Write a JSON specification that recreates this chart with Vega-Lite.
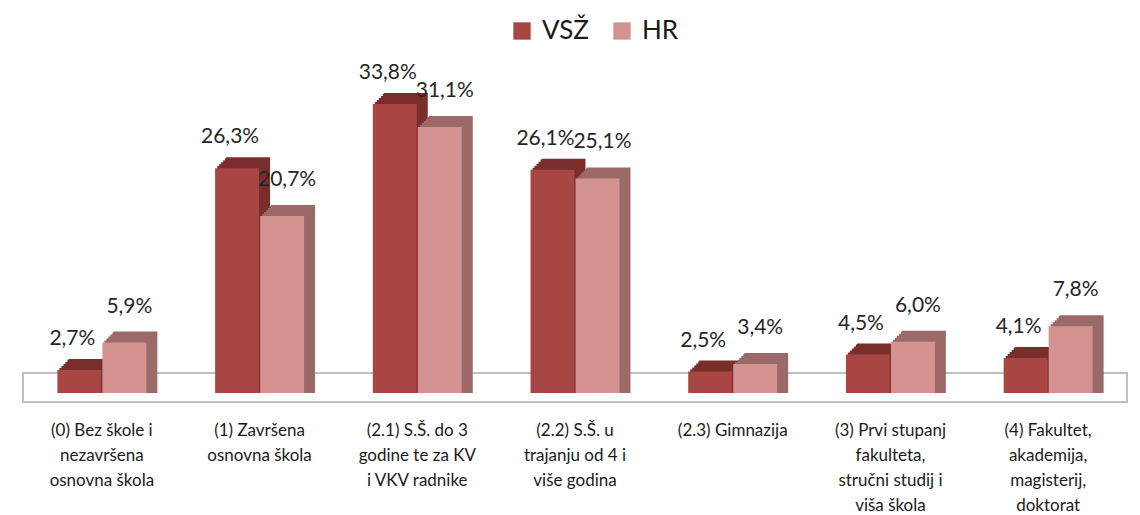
{
  "$schema": "https://vega.github.io/schema/vega-lite/v6.json",
  "autosize": "none",
  "width": 1104,
  "height": 367.65,
  "padding": {"left": 23, "top": 51, "right": 13, "bottom": 96},
  "background": "white",
  "config": {"view": {"stroke": null}, "font": "Lato"},
  "data": {"values": [
    {"cat": "(0) Bez škole i|nezavršena|osnovna škola", "series": "VSŽ", "v": 2.7, "label": "2,7%"},
    {"cat": "(0) Bez škole i|nezavršena|osnovna škola", "series": "HR", "v": 5.9, "label": "5,9%"},
    {"cat": "(1) Završena|osnovna škola", "series": "VSŽ", "v": 26.3, "label": "26,3%"},
    {"cat": "(1) Završena|osnovna škola", "series": "HR", "v": 20.7, "label": "20,7%"},
    {"cat": "(2.1) S.Š. do 3|godine te za KV|i VKV radnike", "series": "VSŽ", "v": 33.8, "label": "33,8%"},
    {"cat": "(2.1) S.Š. do 3|godine te za KV|i VKV radnike", "series": "HR", "v": 31.1, "label": "31,1%"},
    {"cat": "(2.2) S.Š. u|trajanju od 4 i|više godina", "series": "VSŽ", "v": 26.1, "label": "26,1%"},
    {"cat": "(2.2) S.Š. u|trajanju od 4 i|više godina", "series": "HR", "v": 25.1, "label": "25,1%"},
    {"cat": "(2.3) Gimnazija", "series": "VSŽ", "v": 2.5, "label": "2,5%"},
    {"cat": "(2.3) Gimnazija", "series": "HR", "v": 3.4, "label": "3,4%"},
    {"cat": "(3) Prvi stupanj|fakulteta,|stručni studij i|viša škola", "series": "VSŽ", "v": 4.5, "label": "4,5%"},
    {"cat": "(3) Prvi stupanj|fakulteta,|stručni studij i|viša škola", "series": "HR", "v": 6.0, "label": "6,0%"},
    {"cat": "(4) Fakultet,|akademija,|magisterij,|doktorat", "series": "VSŽ", "v": 4.1, "label": "4,1%"},
    {"cat": "(4) Fakultet,|akademija,|magisterij,|doktorat", "series": "HR", "v": 7.8, "label": "7,8%"}
  ]},
  "encoding": {
    "x": {"field": "cat", "type": "nominal", "sort": null,
      "scale": {"paddingInner": 0.436, "paddingOuter": 0.218},
      "axis": {"title": null, "domain": false, "ticks": false, "labelAngle": 0,
        "labelExpr": "split(datum.label, '|')", "labelFont": "Lato", "labelFontSize": 17,
        "labelColor": "#1a1a1a", "labelLineHeight": 25, "labelPadding": 4, "labelBaseline": "top", "labelLimit": 200}},
    "y": {"field": "v", "type": "quantitative", "scale": {"domain": [-3, 40], "nice": false, "zero": false}, "axis": null}
  },
  "layer": [
    {
      "mark": {"type": "rect", "fill": "white", "stroke": "#BFBFBF", "strokeWidth": 2},
      "encoding": {"x": null, "y": {"datum": -1.05, "type": "quantitative"}, "y2": {"datum": 2.34}}
    },
    {"transform": [{"filter": "datum.series == 'VSŽ'"}], "mark": {"type": "bar", "width": {"band": 0.494}, "fill": "#7A2E2C", "xOffset": -20.5, "yOffset": -2}, "encoding": {"y2": {"datum": 0}}},
    {"transform": [{"filter": "datum.series == 'VSŽ'"}], "mark": {"type": "bar", "width": {"band": 0.494}, "fill": "#7A2E2C", "xOffset": -18.5, "yOffset": -4}, "encoding": {"y2": {"datum": 0}}},
    {"transform": [{"filter": "datum.series == 'VSŽ'"}], "mark": {"type": "bar", "width": {"band": 0.494}, "fill": "#7A2E2C", "xOffset": -16.5, "yOffset": -6}, "encoding": {"y2": {"datum": 0}}},
    {"transform": [{"filter": "datum.series == 'VSŽ'"}], "mark": {"type": "bar", "width": {"band": 0.494}, "fill": "#7A2E2C", "xOffset": -14.5, "yOffset": -8}, "encoding": {"y2": {"datum": 0}}},
    {"transform": [{"filter": "datum.series == 'VSŽ'"}], "mark": {"type": "bar", "width": {"band": 0.494}, "fill": "#7A2E2C", "xOffset": -12.5, "yOffset": -10}, "encoding": {"y2": {"datum": 0}}},
    {"transform": [{"filter": "datum.series == 'VSŽ'"}], "mark": {"type": "bar", "width": {"band": 0.494}, "fill": "#7A2E2C", "xOffset": -11.5, "yOffset": -11}, "encoding": {"y2": {"datum": 0}}},
    {"transform": [{"filter": "datum.series == 'HR'"}], "mark": {"type": "bar", "width": {"band": 0.494}, "fill": "#9A6968", "xOffset": 24.5, "yOffset": -2}, "encoding": {"y2": {"datum": 0}}},
    {"transform": [{"filter": "datum.series == 'HR'"}], "mark": {"type": "bar", "width": {"band": 0.494}, "fill": "#9A6968", "xOffset": 26.5, "yOffset": -4}, "encoding": {"y2": {"datum": 0}}},
    {"transform": [{"filter": "datum.series == 'HR'"}], "mark": {"type": "bar", "width": {"band": 0.494}, "fill": "#9A6968", "xOffset": 28.5, "yOffset": -6}, "encoding": {"y2": {"datum": 0}}},
    {"transform": [{"filter": "datum.series == 'HR'"}], "mark": {"type": "bar", "width": {"band": 0.494}, "fill": "#9A6968", "xOffset": 30.5, "yOffset": -8}, "encoding": {"y2": {"datum": 0}}},
    {"transform": [{"filter": "datum.series == 'HR'"}], "mark": {"type": "bar", "width": {"band": 0.494}, "fill": "#9A6968", "xOffset": 32.5, "yOffset": -10}, "encoding": {"y2": {"datum": 0}}},
    {"transform": [{"filter": "datum.series == 'HR'"}], "mark": {"type": "bar", "width": {"band": 0.494}, "fill": "#9A6968", "xOffset": 33.5, "yOffset": -11}, "encoding": {"y2": {"datum": 0}}},
    {
      "transform": [{"filter": "datum.series == 'VSŽ'"}],
      "mark": {"type": "bar", "width": {"band": 0.494}, "xOffset": -22.5},
      "encoding": {
        "y2": {"datum": 0},
        "fill": {"field": "series", "scale": {"domain": ["VSŽ", "HR"], "range": ["#A84644", "#D49391"]},
          "legend": {"title": null, "orient": "none", "legendX": 486, "legendY": -33, "direction": "horizontal",
            "symbolType": "square", "symbolSize": 300, "labelFont": "Lato", "labelFontSize": 26, "labelColor": "#1a1a1a",
            "labelOffset": 7, "columnPadding": 20, "symbolStrokeWidth": 0}}
      }
    },
    {
      "transform": [{"filter": "datum.series == 'HR'"}],
      "mark": {"type": "bar", "width": {"band": 0.494}, "xOffset": 22.5},
      "encoding": {
        "y2": {"datum": 0},
        "fill": {"field": "series"}
      }
    },
    {
      "transform": [{"filter": "datum.series == 'VSŽ'"}],
      "mark": {"type": "text", "font": "Lato", "fontSize": 21, "color": "#262626", "baseline": "middle", "dx": -29.5, "dy": -31},
      "encoding": {"text": {"field": "label"}}
    },
    {
      "transform": [{"filter": "datum.series == 'HR'"}],
      "mark": {"type": "text", "font": "Lato", "fontSize": 21, "color": "#262626", "baseline": "middle", "dx": 27.5, "dy": -36},
      "encoding": {"text": {"field": "label"}}
    }
  ]
}
